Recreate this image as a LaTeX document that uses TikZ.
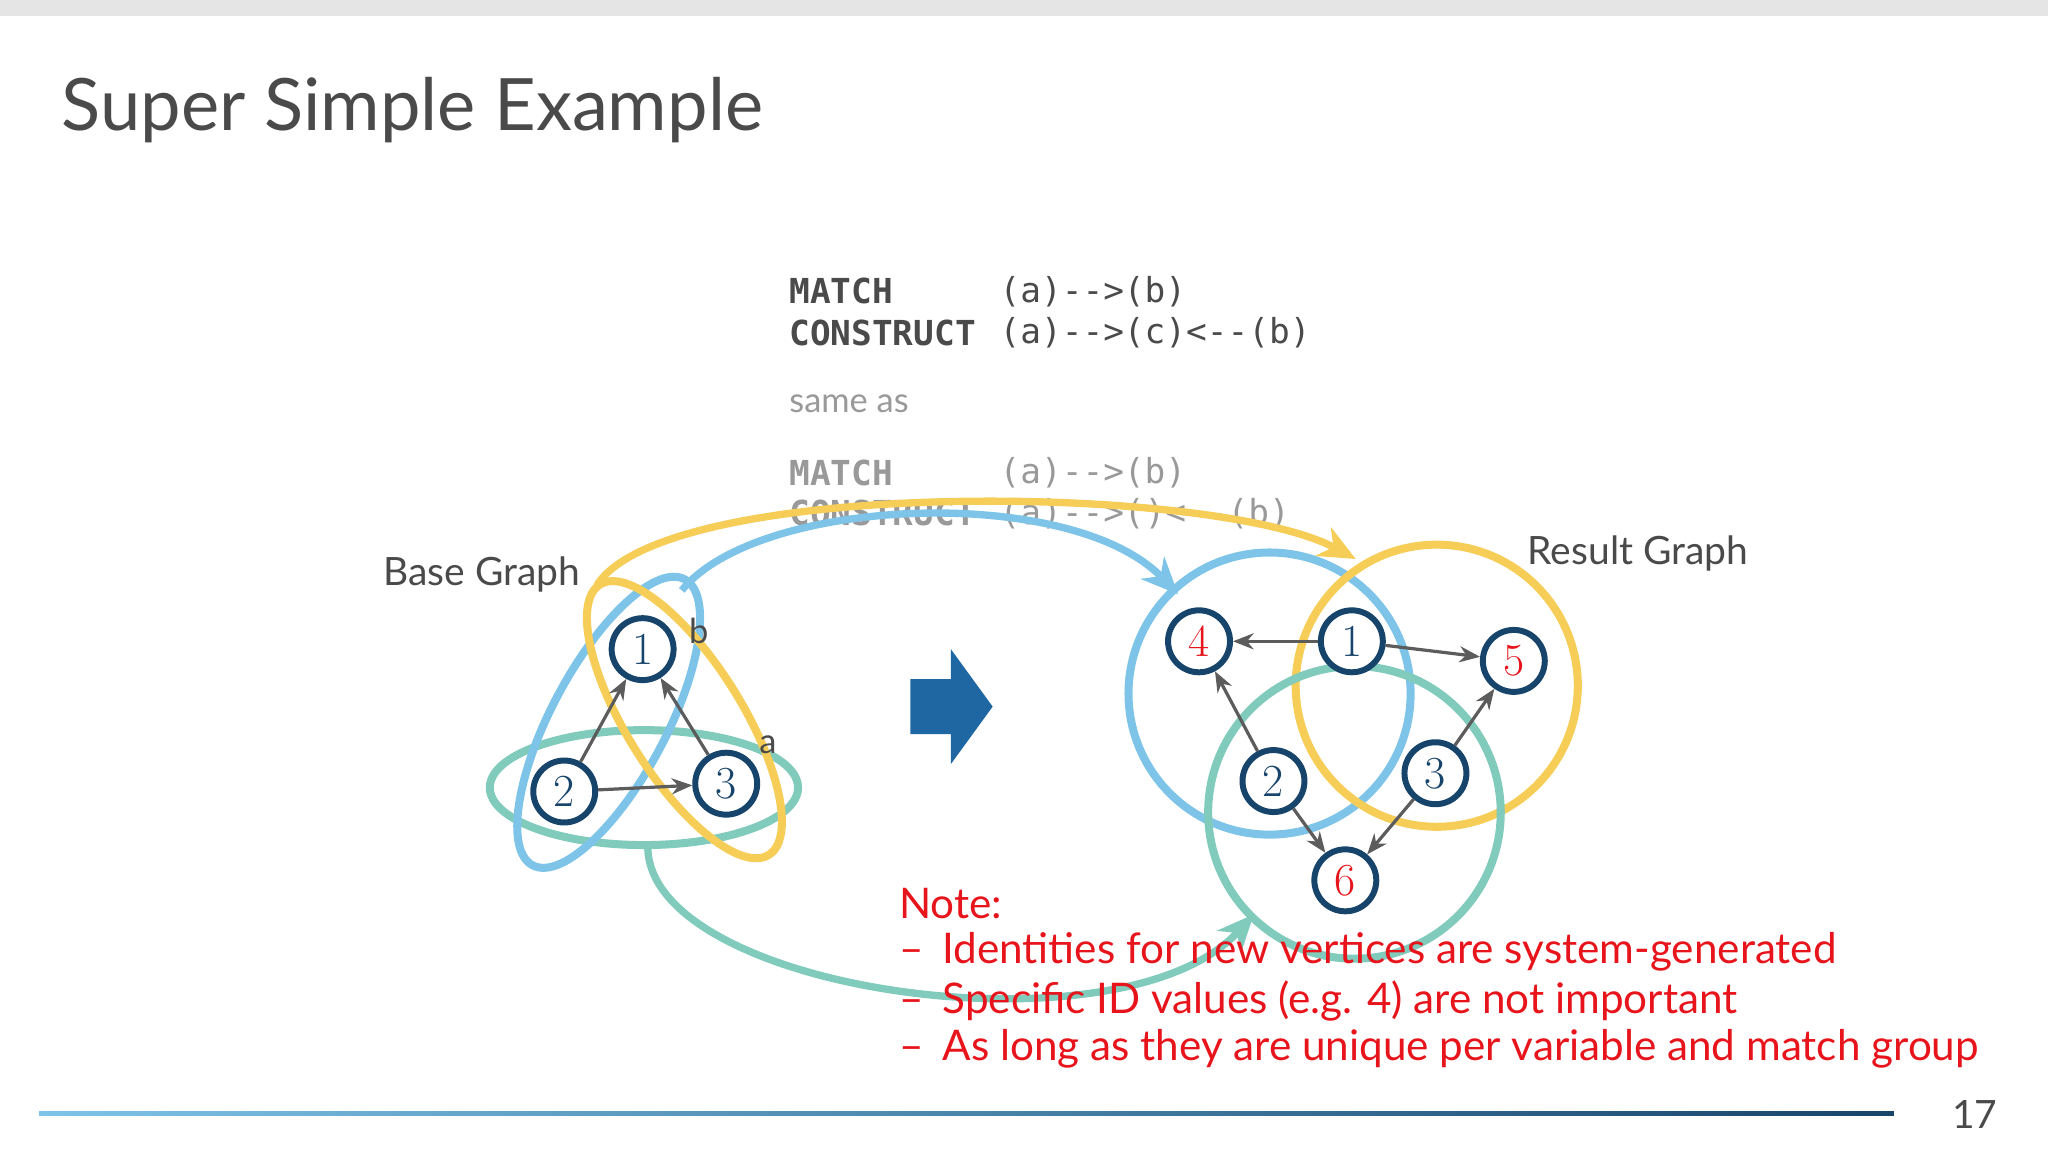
\documentclass[tikz,border=0pt]{standalone}
\usepackage{fontspec}
\setmainfont{Lato}
\newfontfamily\codefont{DejaVu Sans Mono}
\newfontfamily\numfont{Latin Modern Roman}
\usetikzlibrary{arrows.meta,shadings}
\definecolor{lblue}{HTML}{7DC4E8}
\definecolor{lyel}{HTML}{F5CD57}
\definecolor{lteal}{HTML}{80CBBC}
\definecolor{ndark}{HTML}{17446B}
\definecolor{nred}{HTML}{E8141B}
\definecolor{txt}{HTML}{4A4A4A}
\definecolor{arr}{HTML}{1F67A2}
\tikzset{
 v/.style={circle,draw=ndark,line width=2.6pt,fill=white,minimum size=27pt,inner sep=0pt,font=\numfont\fontsize{20}{20}\selectfont,text=ndark},
 vr/.style={v,text=nred},
 e/.style={draw=txt!90,line width=1.4pt,-{Stealth[length=9pt,width=7pt]}},
 hull/.style={line width=3.5pt},
 big/.style={line width=3.2pt,-{Stealth[length=16pt,width=14pt,inset=5pt]}},
 code/.style={font=\codefont\fontsize{15}{15}\selectfont,anchor=west,inner sep=0pt},
 note/.style={font=\fontsize{18.4}{18.4}\selectfont,text=nred,anchor=west,inner sep=0pt}
}
\begin{document}
\begin{tikzpicture}[x=0.02cm,y=-0.02cm]
\useasboundingbox (0,0) rectangle (1568,882);
\fill[black!10] (0,0) rectangle (1568,12);
\node[anchor=west,text=txt,font=\fontsize{31.5}{31.5}\selectfont,inner sep=0pt] (title) at (47,84) {Super Simple Example};
% code
\node[code,text=txt] (m1) at (604,223) {\textbf{MATCH}};
\node[code,text=txt] (m1b) at (765,223) {(a)-->(b)};
\node[code,text=txt] (c1) at (604,255) {\textbf{CONSTRUCT}};
\node[code,text=txt] (c1b) at (765,255) {(a)-->(c)<--(b)};
\node[anchor=west,inner sep=0pt,text=black!40,font=\fontsize{15}{15}\selectfont] (same) at (604,309) {same as};
\node[code,text=black!40] (m2) at (604,362) {\textbf{MATCH}};
\node[code,text=black!40] (m2b) at (765,362) {(a)-->(b)};
\node[code,text=black!40] (c2) at (604,393) {\textbf{CONSTRUCT}};
\node[code,text=black!40] (c2b) at (765,393) {(a)-->()<--(b)};
% base graph hulls
\draw[hull,lteal] (493,603) ellipse [x radius=118,y radius=44];
\draw[hull,lblue,rotate around={62:(466,553)}] (466,553) ellipse [x radius=124,y radius=44];
\draw[hull,lyel,rotate around={-58:(524,551)}] (524,551) ellipse [x radius=122,y radius=44];
\node[font=\fontsize{15}{15}\selectfont,text=txt] (lb) at (535,483) {b};
\node[font=\fontsize{15}{15}\selectfont,text=txt] (la) at (588,570) {a};
\node[font=\fontsize{17}{17}\selectfont,text=txt] (bg) at (369,440) {Base Graph};
\node[v] (b1) at (492,497) {1};
\node[v] (b2) at (432,606) {2};
\node[v] (b3) at (556,600) {3};
\draw[e] (b2) -- (b1);
\draw[e] (b2) -- (b3);
\draw[e] (b3) -- (b1);
% result hulls
\draw[hull,lblue] (972,531) circle (108);
\draw[hull,lyel] (1100,525) circle (108);
\draw[hull,lteal] (1037,622) circle (112);
\node[font=\fontsize{17}{17}\selectfont,text=txt] (rg) at (1254,424) {Result Graph};
\node[vr] (r4) at (918,491) {4};
\node[v] (r1) at (1035,491) {1};
\node[vr] (r5) at (1159,506) {5};
\node[v] (r2) at (975,598) {2};
\node[v] (r3) at (1099,592) {3};
\node[vr] (r6) at (1030,674) {6};
\draw[e] (r1) -- (r4);
\draw[e] (r1) -- (r5);
\draw[e] (r2) -- (r4);
\draw[e] (r3) -- (r5);
\draw[e] (r2) -- (r6);
\draw[e] (r3) -- (r6);
% transform arrow
\fill[arr] (697,520) -- (728,520) -- (728,497) -- (760,541) -- (728,585) -- (728,562) -- (697,562) -- cycle;
% big connectors
\coordinate (ys) at (457,448);
\coordinate (ye) at (1038,428);
\coordinate (bs) at (522,452);
\coordinate (be) at (902,455);
\coordinate (ts) at (496,650);
\coordinate (te) at (960,700);
\draw[big,lyel] (ys) .. controls (510,365) and (930,370) .. (ye);
\draw[big,lblue] (bs) .. controls (580,380) and (820,370) .. (be);
\draw[big,lteal] (ts) .. controls (500,760) and (860,810) .. (te);
% note
\node[note] (n0) at (688,692) {Note:};
\node[note] (n1) at (688,729) {–\hspace{0.45em}Identities for new vertices are system-generated};
\node[note] (n2) at (688,766) {–\hspace{0.45em}Specific ID values (e.g. 4) are not important};
\node[note] (n3) at (688,803) {–\hspace{0.45em}As long as they are unique per variable and match group};
% footer
\shade[left color=lblue,right color=ndark] (30,851) rectangle (1450,854);
\node[text=txt,font=\fontsize{17}{17}\selectfont] (pg) at (1512,853) {17};
\end{tikzpicture}
\end{document}
